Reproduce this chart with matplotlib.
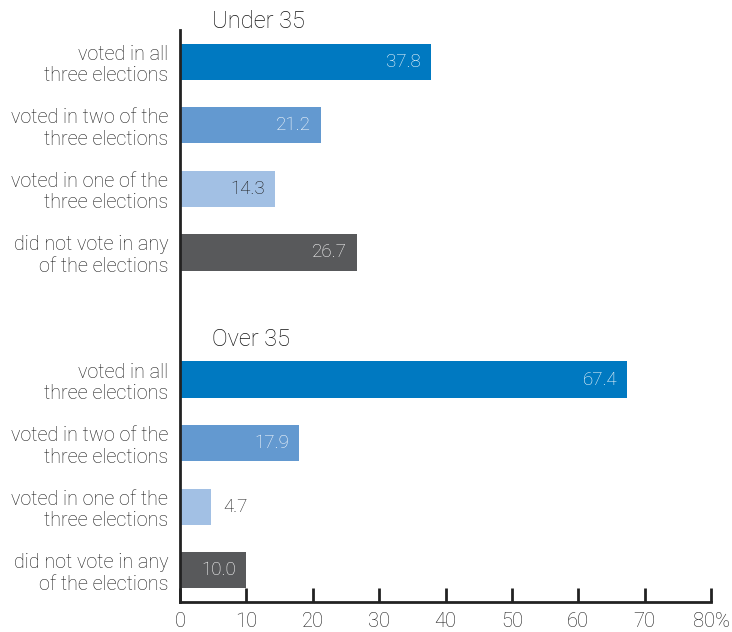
import matplotlib.pyplot as plt
from matplotlib.transforms import offset_copy

plt.rcParams['font.family'] = ['Roboto', 'DejaVu Sans']
plt.rcParams['font.weight'] = 'light'

groups = ['Under 35', 'Over 35']
categories = ['voted in all\nthree elections',
              'voted in two of the\nthree elections',
              'voted in one of the\nthree elections',
              'did not vote in any\nof the elections']
under35 = [37.8, 21.2, 14.3, 26.7]
over35 = [67.4, 17.9, 4.7, 10.0]
colors = ['#0079C1', '#6399D0', '#A2C0E4', '#58595B']
text_colors = ['white', 'white', '#1a1a1a', 'white']
xticks = [0, 10, 20, 30, 40, 50, 60, 70, 80]
xticklabels = ['0', '10', '20', '30', '40', '50', '60', '70', '80%']

fig = plt.figure(figsize=(7.32, 6.32), dpi=100)
ax = fig.add_axes([180 / 732, 30 / 632, 531 / 732, 572 / 632])

ypos, labels = [], []
for g, vals in enumerate([under35, over35]):
    base = g * 5
    for i, v in enumerate(vals):
        y = base + i
        ax.barh(y, v, height=0.57, color=colors[i])
        ypos.append(y)
        labels.append(categories[i])
        # value inside the bar end, or just past it for short bars
        if v > 8:
            tr = offset_copy(ax.transData, fig=fig, x=-10, y=0, units='dots')
            ax.text(v, y, f'{v:.1f}', transform=tr, ha='right', va='center',
                    fontsize=13.5, color=text_colors[i])
        else:
            tr = offset_copy(ax.transData, fig=fig, x=12, y=0, units='dots')
            ax.text(v, y, f'{v:.1f}', transform=tr, ha='left', va='center',
                    fontsize=13.5, color='#1a1a1a')
    ax.text(4.8, base - 0.63, groups[g], ha='left', va='center',
            fontsize=17, color='#111111')

ax.set_xlim(0, 80)
ax.set_ylim(8.5, -0.5)
ax.set_yticks(ypos)
ax.set_yticklabels(labels, fontsize=14.2, color='#1a1a1a', linespacing=1.17)
ax.tick_params(axis='y', length=0, pad=8.5)
ax.set_xticks(xticks)
ax.set_xticklabels(xticklabels, fontsize=14.5, color='#1a1a1a')
ax.tick_params(axis='x', direction='in', length=10, width=2, color='#222222', pad=7)

for s in ['top', 'right']:
    ax.spines[s].set_visible(False)
for s in ['left', 'bottom']:
    ax.spines[s].set_linewidth(2)
    ax.spines[s].set_color('#222222')

fig.savefig('out.png', dpi=100)
